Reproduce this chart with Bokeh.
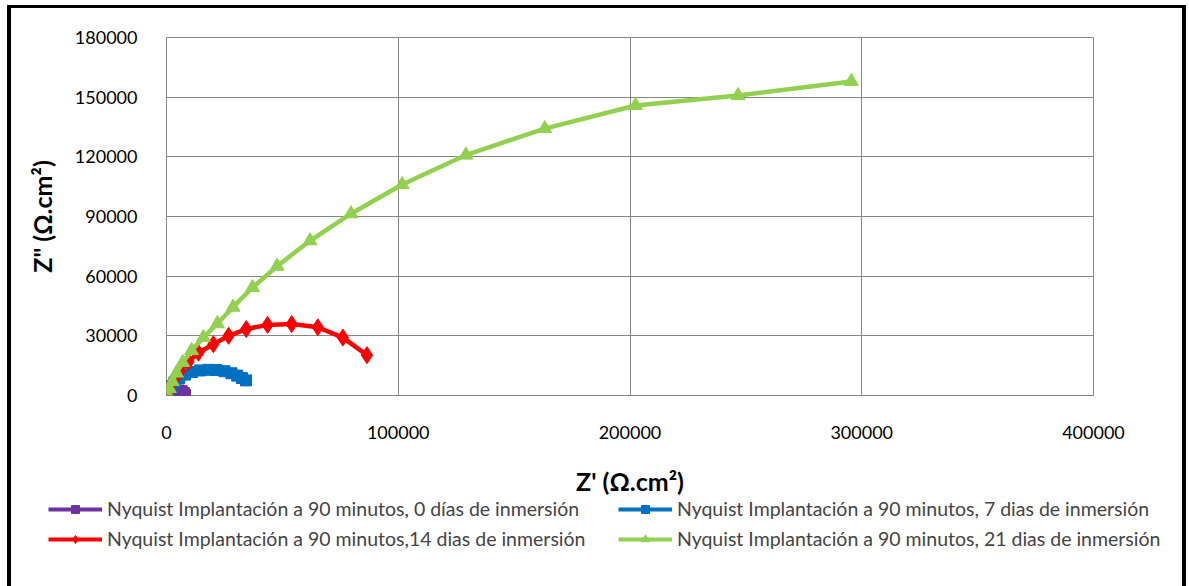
from bokeh.plotting import figure
from bokeh.models import Legend, LegendItem, FixedTicker, NumeralTickFormatter
from bokeh.layouts import column
from bokeh.embed import file_html
from bokeh.resources import INLINE

# ---- data ----
d0_x = [300, 1200, 2500, 4000, 5500, 6800, 7800, 8200]
d0_y = [300, 1000, 2000, 2600, 2800, 2400, 1400, 500]

d7_x = [200, 800, 2000, 3500, 5500, 8000, 11000, 14500, 18000, 21500, 25000, 28000, 30500, 32500, 34300]
d7_y = [1200, 2800, 4800, 6800, 8800, 10500, 11800, 12600, 12900, 12800, 12200, 11200, 10000, 8800, 7600]

d14_x = [400, 1000, 2000, 3500, 6000, 9500, 13800, 20200, 26800, 34400, 43600, 54000, 65300, 76100, 86500]
d14_y = [1300, 3000, 5500, 8500, 12500, 17000, 21500, 25800, 30000, 33400, 35500, 35900, 34300, 29100, 20300]

d21_x = [300, 1200, 2500, 4300, 7000, 10800, 15900, 21900, 28700, 37100, 47700, 61900, 79600,
         101700, 129200, 163200, 202400, 246600, 295500]
d21_y = [800, 3500, 7000, 11300, 16600, 22600, 29100, 36100, 44400, 54300, 65000, 77800, 91400,
         106100, 120900, 134200, 145800, 150800, 157900]

labels = [
    "Nyquist Implantación a 90 minutos, 0 días de inmersión",
    "Nyquist Implantación a 90 minutos, 7 dias de inmersión",
    "Nyquist Implantación a 90 minutos,14 dias de inmersión",
    "Nyquist Implantación a 90 minutos, 21 dias de inmersión",
]
x_ticks = [0, 100000, 200000, 300000, 400000]
y_ticks = [0, 30000, 60000, 90000, 120000, 150000, 180000]

FONT = "Lato"
GRID = "#868686"
MAIN_H = 498
LEG_H = 586 - MAIN_H

p = figure(width=1189, height=MAIN_H, output_backend="svg", toolbar_location=None,
           x_range=(0, 400000), y_range=(0, 180000),
           min_border_left=166, min_border_right=96, min_border_top=37,
           min_border_bottom=MAIN_H - 395)
p.frame_align = False
p.background_fill_color = "white"
p.border_fill_color = None
p.outline_line_color = GRID
p.outline_line_width = 1

p.xaxis.ticker = FixedTicker(ticks=x_ticks)
p.yaxis.ticker = FixedTicker(ticks=y_ticks)
p.xaxis.formatter = NumeralTickFormatter(format="0")
p.yaxis.formatter = NumeralTickFormatter(format="0")
for ax in (p.xaxis[0], p.yaxis[0]):
    ax.axis_line_color = None
    ax.major_tick_line_color = None
    ax.minor_tick_line_color = None
    ax.major_label_text_font = FONT
    ax.major_label_text_font_size = "18px"
    ax.major_label_text_color = "black"
    ax.axis_label_text_font = FONT
    ax.axis_label_text_font_size = "25px"
    ax.axis_label_text_font_style = "bold"
    ax.axis_label_text_color = "black"

p.xaxis.axis_label = "Z' (Ω.cm²)"
p.yaxis.axis_label = 'Z" (Ω.cm²)'
p.xaxis.major_label_standoff = 24
p.xaxis.axis_label_standoff = 24
p.yaxis.major_label_standoff = 23
p.yaxis.axis_label_standoff = 15

p.xgrid.grid_line_color = GRID
p.ygrid.grid_line_color = GRID

series = [
    (d0_x, d0_y, "#7030A0", "square", 10),
    (d7_x, d7_y, "#0070C0", "square", 11),
    (d14_x, d14_y, "#FF0000", "diamond", 17),
    (d21_x, d21_y, "#92D050", "triangle", 14),
]

# legend strip: a second figure whose frame fills its whole canvas
q = figure(width=1189, height=LEG_H, output_backend="svg", toolbar_location=None,
           x_range=(0, 1), y_range=(0, 1), min_border=0)
q.frame_align = False
q.axis.visible = False
q.grid.visible = False
q.outline_line_color = None
q.background_fill_color = None
q.border_fill_color = None

items = []
for (xs, ys, col, mk, sz), lab in zip(series, labels):
    p.line(xs, ys, line_color=col, line_width=4.5)
    p.scatter(xs, ys, marker=mk, size=sz, fill_color=col, line_color=col)
    # same series in the strip; they fall outside its range, only the legend shows
    ln = q.line(xs, ys, line_color=col, line_width=4)
    sc = q.scatter(xs, ys, marker=mk, size=sz, fill_color=col, line_color=col)
    items.append(LegendItem(label=lab, renderers=[ln, sc]))

legend = Legend(items=[items[0], items[2], items[1], items[3]],
                location=(48, 36), ncols=2, orientation="vertical",
                label_width=504, spacing=7, glyph_width=54, glyph_height=20,
                label_standoff=5, padding=0, margin=0,
                border_line_color=None, background_fill_alpha=0,
                label_text_font=FONT, label_text_font_size="19.5px")
q.add_layout(legend)

lay = column(p, q, spacing=0)
lay.styles = {
    "background-color": "white",
    "box-shadow": ("inset 7px 0 0 0 white, inset -3px 0 0 0 white, inset 0 5px 0 0 white, "
                   "inset 11px 0 0 0 black, inset -7px 0 0 0 black, inset 0 8px 0 0 black"),
}

open("out.html", "w").write(file_html(lay, INLINE))
